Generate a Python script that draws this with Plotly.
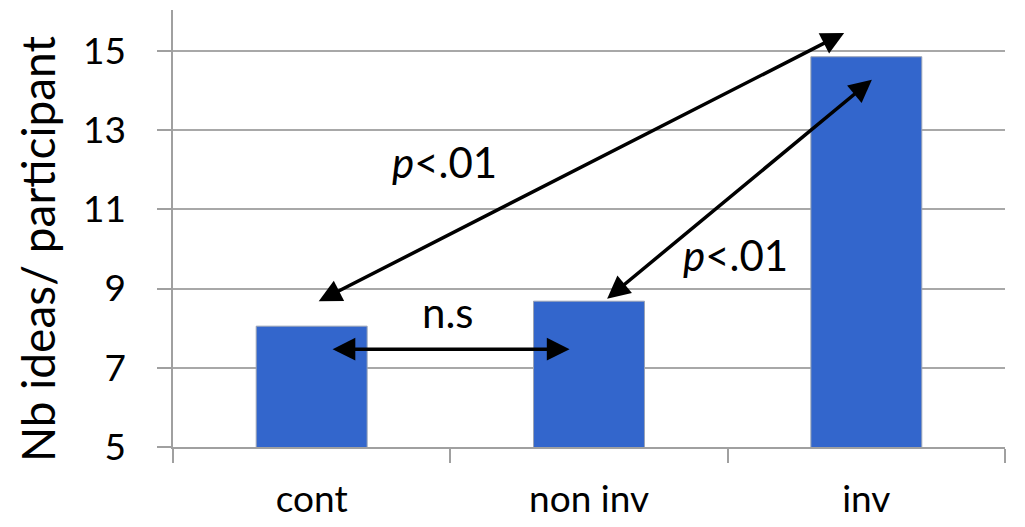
import plotly.graph_objects as go

categories = ["cont", "non inv", "inv"]
values = [8.05, 8.68, 14.85]
y_ticks = [5, 7, 9, 11, 13, 15]
y_title = "Nb ideas/ participant"

# significance arrows: (x0, y0, x1, y1) in data coords (category index, value)
arrow_x0 = [0.02, 1.06, 0.07]
arrow_y0 = [8.66, 8.71, 7.47]
arrow_x1 = [1.92, 2.02, 0.93]
arrow_y1 = [15.45, 14.27, 7.47]

label_texts = ["<i>p</i>&lt;.01", "<i>p</i>&lt;.01", "n.s"]
label_x = [0.48, 1.53, 0.49]
label_y = [12.2, 9.85, 8.41]

FONT = "Lato"
fig = go.Figure(go.Bar(
    x=categories, y=values, width=0.4,
    marker=dict(color="#3366CC", line=dict(color="#9aa3b5", width=1)),
))

for x0, y0, x1, y1 in zip(arrow_x0, arrow_y0, arrow_x1, arrow_y1):
    fig.add_annotation(
        x=x1, y=y1, ax=x0, ay=y0, xref="x", yref="y", axref="x", ayref="y",
        text="", showarrow=True, arrowhead=2, startarrowhead=2,
        arrowside="end+start", arrowsize=1.3, startarrowsize=1.3,
        arrowwidth=3.5, arrowcolor="black",
    )

for t, x, y in zip(label_texts, label_x, label_y):
    fig.add_annotation(x=x, y=y, text=t, showarrow=False,
                       font=dict(family=FONT, size=42, color="black"))

# y axis title as rotated annotation (positioned like the reference)
fig.add_annotation(x=-0.1635, y=0.453, xref="paper", yref="paper",
                   text=y_title, textangle=-90, showarrow=False,
                   xanchor="center", yanchor="middle",
                   font=dict(family=FONT, size=46, color="black"))

fig.update_layout(
    width=1025, height=527,
    margin=dict(l=173, r=20, t=10, b=80, autoexpand=False),
    paper_bgcolor="white", plot_bgcolor="white",
    font=dict(family=FONT, size=36, color="black"),
    showlegend=False,
)
fig.update_xaxes(
    type="category", range=[-0.5, 2.5], tickson="boundaries",
    ticks="outside", ticklen=14, tickcolor="#a0a0a0", tickwidth=1.5,
    showline=True, linecolor="#a0a0a0", linewidth=1.5,
    showgrid=False, ticklabelstandoff=19, automargin=False,
    tickfont=dict(family=FONT, size=37, color="black"),
)
fig.update_yaxes(
    range=[5, 16.03], tickvals=y_ticks,
    ticks="outside", ticklen=14, tickcolor="#a0a0a0", tickwidth=1.5,
    showline=True, linecolor="#a0a0a0", linewidth=1.5,
    showgrid=True, gridcolor="#a8a8a8", gridwidth=1.5,
    zeroline=False, ticklabelstandoff=24, automargin=False,
    tickfont=dict(family=FONT, size=37, color="black"),
)

fig.write_html("out.html")
